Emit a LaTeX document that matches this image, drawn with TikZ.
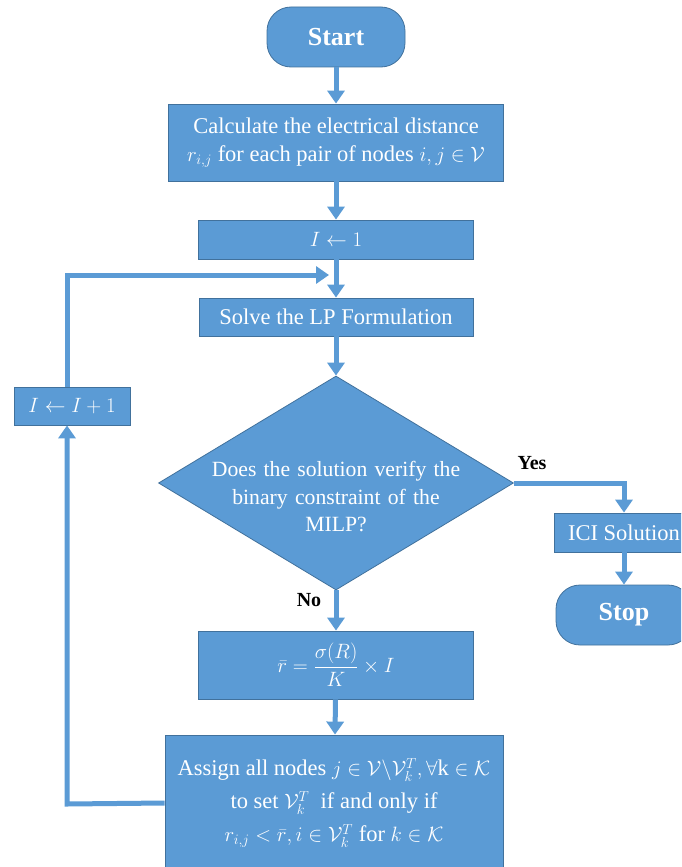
\documentclass[tikz,border=0pt]{standalone}
\usepackage{amsmath}
\usepackage{fontspec}
\setmainfont{Liberation Serif}
\usetikzlibrary{shapes.geometric,arrows.meta}
\definecolor{boxfill}{HTML}{5B9BD5}
\definecolor{boxline}{HTML}{41719C}
\begin{document}
\begin{tikzpicture}[x=1pt,y=-1pt,
  base/.style={fill=boxfill,draw=boxline,line width=0.8pt,text=white,
    font=\fontsize{22.5}{27}\selectfont,inner sep=0pt,align=center},
  procbox/.style={base,rectangle},
  termbox/.style={base,rectangle,rounded corners=24pt,
    font=\fontsize{26}{30}\selectfont\bfseries},
  decbox/.style={base,diamond},
  flow/.style={draw=boxfill,line width=5pt,
    -{Triangle[width=17pt,length=13pt]}},
  answer/.style={font=\fontsize{20}{24}\selectfont\bfseries,text=black}]
\clip (0,0) rectangle (681,867);

% main column
\node[termbox,minimum width=138pt,minimum height=60pt] (start) at (336,37) {Start};
\node[procbox,minimum width=335pt,minimum height=77pt] (dist) at (336,142.5)
  {Calculate the electrical distance\\[1pt]
   $r_{i,j}$\ for each pair of nodes $i,j\in\mathcal{V}$};
\node[procbox,minimum width=275pt,minimum height=39pt] (init) at (336,239.5)
  {$I\leftarrow 1$};
\node[procbox,minimum width=274pt,minimum height=38pt] (lp) at (336,317)
  {Solve the LP Formulation};
\node[decbox,minimum width=355pt,minimum height=214pt] (check) at (336,483) {};
\node[text=white,font=\fontsize{21.7}{27.5}\selectfont,align=center,text width=290pt]
  (checktxt) at (336,497)
  {Does the solution verify the\\binary constraint of the\\MILP?};
\node[procbox,minimum width=275pt,minimum height=68pt] (rbar) at (336,665)
  {$\bar{r}=\dfrac{\sigma(R)}{K}\times I$};
\node[procbox,minimum width=338pt,minimum height=136pt] (assign) at (334,803)
  {Assign all nodes $j\in\mathcal{V}\backslash\mathcal{V}_k^T,\forall\mathrm{k}\in\mathcal{K}$\\[6pt]
   to set $\mathcal{V}_k^T$\ \ if and only if\\[6pt]
   $r_{i,j}<\bar{r},i\in\mathcal{V}_k^T$\ for $k\in\mathcal{K}$};

% right branch
\node[procbox,minimum width=140pt,minimum height=39pt] (ici) at (624,532.5)
  {ICI Solution};
\node[termbox,minimum width=136pt,minimum height=60pt] (stop) at (624,615) {Stop};

% loop counter
\node[procbox,minimum width=116pt,minimum height=38pt] (incr) at (72,406)
  {$I\leftarrow I+1$};

\coordinate (join) at (329,275);
\coordinate (loopturn) at (67,804);

% connectors
\draw[flow] (start) -- (dist);
\draw[flow] (dist) -- (init);
\draw[flow] (init) -- (lp);
\draw[flow] (lp) -- (check.north);
\draw[flow] (check.south) -- (rbar);
\draw[flow] (rbar) -- (assign);
\draw[flow] (check.east) -| (ici.north);
\draw[flow] (ici) -- (stop);
\draw[flow] (assign.west) -- (loopturn) -- (loopturn |- incr.south);
\draw[flow] (loopturn |- incr.north) |- (join);

% branch labels
\node[answer] (yes) at (532,463) {Yes};
\node[answer] (no) at (309,600) {No};
\end{tikzpicture}
\end{document}
